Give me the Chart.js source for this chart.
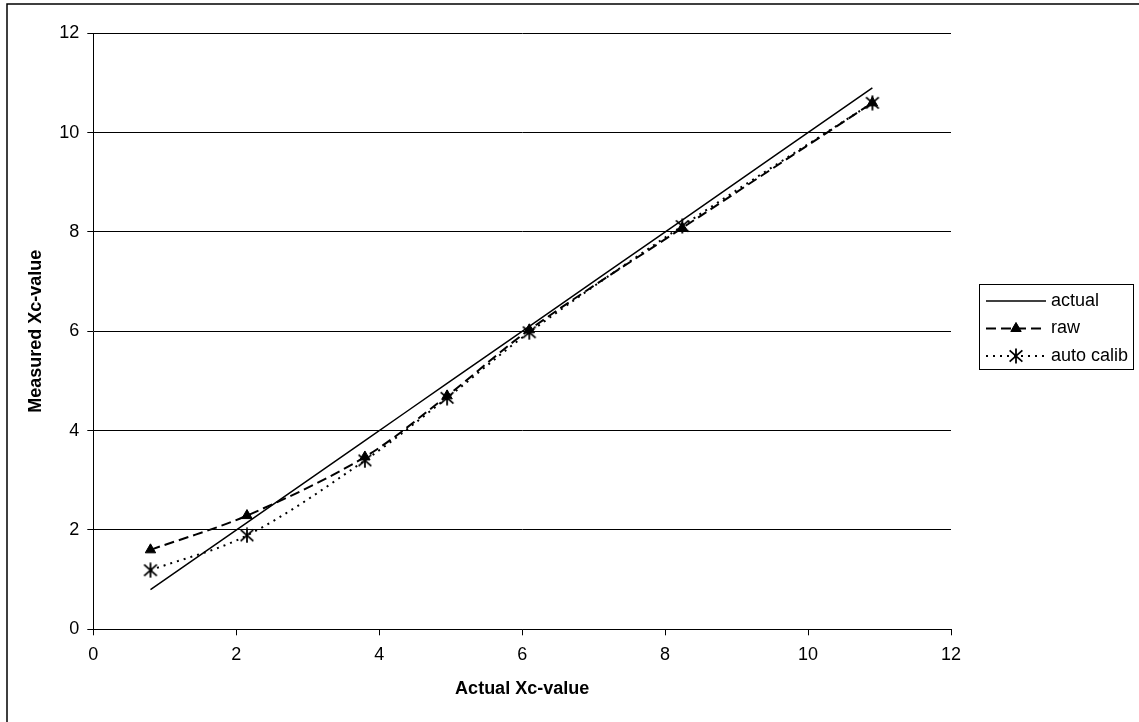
<!DOCTYPE html>
<html>
<head>
<meta charset="utf-8">
<title>Measured vs actual Xc-value</title>
<script src="https://cdn.jsdelivr.net/npm/chart.js@4/dist/chart.umd.min.js"></script>
<style>
  html, body { margin: 0; padding: 0; background: #fff; }
  #wrap { width: 1139px; height: 722px; }
</style>
</head>
<body>
<div id="wrap"><canvas id="chart" width="1139" height="722"></canvas></div>
<script>
// values
const xValues = [0.8, 2.15, 3.8, 4.95, 6.1, 8.24, 10.9];
const actualValues = [0.8, 2.15, 3.8, 4.95, 6.1, 8.24, 10.9];
const rawValues = [1.6, 2.29, 3.47, 4.7, 6.03, 8.08, 10.6];
const autoCalibValues = [1.19, 1.89, 3.4, 4.66, 5.98, 8.12, 10.6];
const seriesNames = ['actual', 'raw', 'auto calib'];
const axisTicks = [0, 2, 4, 6, 8, 10, 12];

const FONT = "'Liberation Sans', Arial, sans-serif";

// excel style asterisk marker: vertical bar plus an X
const makeStar = (size) => {
  const c = document.createElement('canvas');
  c.width = size;
  c.height = size;
  const g = c.getContext('2d');
  const m = size / 2;
  const r = size / 2 - 0.5;
  g.strokeStyle = '#000';
  g.lineWidth = 1.8;
  g.beginPath();
  g.moveTo(m, m - r);
  g.lineTo(m, m + r);
  g.moveTo(m - r * 0.85, m - r * 0.75);
  g.lineTo(m + r * 0.85, m + r * 0.75);
  g.moveTo(m + r * 0.85, m - r * 0.75);
  g.lineTo(m - r * 0.85, m + r * 0.75);
  g.stroke();
  return c;
};
const starMarker = makeStar(16);

const toPoints = (ys) => xValues.map((x, i) => ({ x, y: ys[i] }));

const data = {
  datasets: [
    {
      label: seriesNames[0],
      data: toPoints(actualValues),
      borderColor: '#000',
      borderWidth: 1.5,
      pointRadius: 0,
      showLine: true,
      tension: 0.33,
    },
    {
      label: seriesNames[1],
      data: toPoints(rawValues),
      borderColor: '#000',
      backgroundColor: '#000',
      borderWidth: 2,
      borderDash: [10, 5],
      pointStyle: 'triangle',
      pointRadius: 6,
      pointBorderWidth: 1,
      showLine: true,
      tension: 0.33,
    },
    {
      label: seriesNames[2],
      data: toPoints(autoCalibValues),
      borderColor: '#000',
      borderWidth: 2,
      borderDash: [2, 5],
      pointStyle: starMarker,
      pointRadius: 8,
      showLine: true,
      tension: 0.33,
    },
  ],
};

// white page, partial frame (left + top only, like the original crop)
const framePlugin = {
  id: 'frame',
  beforeDraw(chart) {
    const { ctx } = chart;
    ctx.save();
    ctx.fillStyle = '#fff';
    ctx.fillRect(0, 0, chart.width, chart.height);
    ctx.strokeStyle = '#000';
    ctx.lineWidth = 1.5;
    ctx.beginPath();
    ctx.moveTo(7, chart.height + 2);
    ctx.lineTo(7, 4);
    ctx.lineTo(chart.width + 2, 4);
    ctx.stroke();
    ctx.restore();
  },
};

// boxed legend on the right with line + marker samples
const boxLegend = {
  id: 'boxLegend',
  afterDraw(chart) {
    const { ctx } = chart;
    const left = 979.5;
    const top = 284.5;
    const right = 1133.5;
    const bottom = 369.5;
    const rowY = [301, 328.5, 356];
    ctx.save();
    ctx.strokeStyle = '#000';
    ctx.lineWidth = 1;
    ctx.strokeRect(left, top, right - left, bottom - top);
    ctx.font = `18px ${FONT}`;
    ctx.textBaseline = 'middle';
    ctx.fillStyle = '#000';
    chart.data.datasets.forEach((ds, i) => {
      const y = rowY[i];
      ctx.save();
      ctx.lineWidth = ds.borderWidth;
      ctx.setLineDash(ds.borderDash || []);
      ctx.beginPath();
      ctx.moveTo(986, y);
      ctx.lineTo(1046, y);
      ctx.stroke();
      ctx.restore();
      if (ds.pointStyle === 'triangle') {
        Chart.helpers.drawPoint(ctx, { pointStyle: 'triangle', radius: 6, borderWidth: 1 }, 1016, y);
        ctx.fill();
      } else if (ds.pointStyle instanceof HTMLCanvasElement) {
        ctx.drawImage(ds.pointStyle, 1016 - 8, y - 8);
      }
      ctx.fillText(ds.label, 1051, y);
    });
    ctx.restore();
  },
};

const config = {
  type: 'scatter',
  data,
  options: {
    responsive: false,
    animation: false,
    devicePixelRatio: 1,
    layout: {
      padding: { left: 0, top: 33.3, right: 188, bottom: 0 },
    },
    plugins: {
      legend: { display: false },
      tooltip: { enabled: false },
    },
    scales: {
      x: {
        type: 'linear',
        min: 0,
        max: 12,
        afterFit: (scale) => { scale.height = 92.7; },
        afterBuildTicks: (scale) => { scale.ticks = axisTicks.map((v) => ({ value: v })); },
        border: { display: true, color: '#000', width: 1 },
        grid: {
          drawOnChartArea: false,
          drawTicks: true,
          tickLength: 6,
          tickColor: '#000',
          color: '#000',
        },
        ticks: {
          padding: 9,
          color: '#000',
          font: { family: FONT, size: 18 },
          maxRotation: 0,
        },
        title: {
          display: true,
          text: 'Actual Xc-value',
          color: '#000',
          font: { family: FONT, size: 18, weight: 'bold' },
          padding: { top: 0, bottom: 22 },
        },
      },
      y: {
        type: 'linear',
        min: 0,
        max: 12,
        afterFit: (scale) => { scale.width = 93.3; },
        afterBuildTicks: (scale) => { scale.ticks = axisTicks.map((v) => ({ value: v })); },
        border: { display: true, color: '#000', width: 1 },
        grid: {
          color: '#000',
          lineWidth: 1,
          drawTicks: true,
          tickLength: 6,
          tickColor: '#000',
        },
        ticks: {
          padding: 8,
          color: '#000',
          font: { family: FONT, size: 18 },
        },
        title: {
          display: true,
          text: 'Measured Xc-value',
          color: '#000',
          font: { family: FONT, size: 18, weight: 'bold' },
          padding: { top: 25, bottom: 0 },
        },
      },
    },
  },
  plugins: [framePlugin, boxLegend],
};

new Chart(document.getElementById('chart'), config);
</script>
</body>
</html>
